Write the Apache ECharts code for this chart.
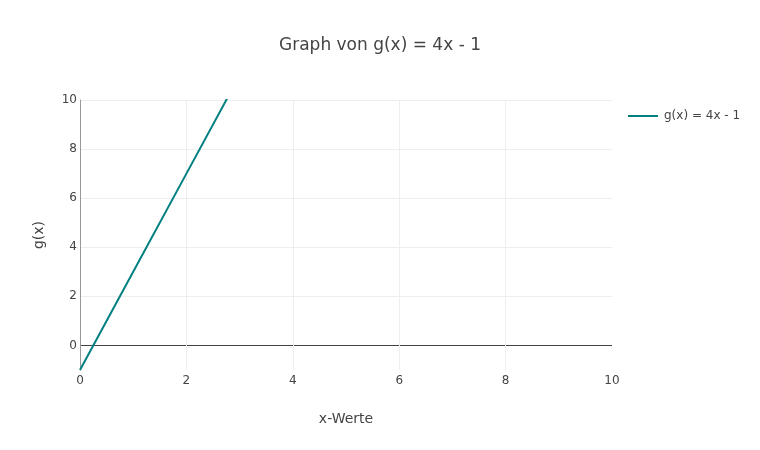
<!DOCTYPE html>
<html>
<head>
<meta charset="utf-8">
<script src="https://cdn.jsdelivr.net/npm/echarts@6/dist/echarts.min.js"></script>
<style>html,body{margin:0;padding:0;background:#fff}#c{width:760px;height:450px}</style>
</head>
<body>
<div id="c"></div>
<script>
var xValues = [0, 1, 2, 3, 4, 5, 6, 7, 8, 9, 10];
var gValues = [-1, 3, 7, 11, 15, 19, 23, 27, 31, 35, 39];
var seriesName = 'g(x) = 4x - 1';
var titleText = 'Graph von g(x) = 4x - 1';
var xTickLabels = [0, 2, 4, 6, 8, 10];
var yTickLabels = [0, 2, 4, 6, 8, 10];

var font = '"DejaVu Sans", Verdana, sans-serif';
var points = xValues.map(function (x, i) { return [x, gValues[i]]; });

// split line colours for ticks -1,0,1,...,10 (interval 1)
var splitColors = [];
for (var v = -1; v <= 10; v++) {
  if (v === 0) splitColors.push('#444');
  else if (yTickLabels.indexOf(v) >= 0) splitColors.push('#eeeeee');
  else splitColors.push('rgba(0,0,0,0)');
}

var chart = echarts.init(document.getElementById('c'));
chart.setOption({
  animation: false,
  backgroundColor: '#fff',
  textStyle: { fontFamily: font },
  title: {
    text: titleText,
    left: 'center',
    top: 37,
    padding: 0,
    textStyle: { fontFamily: font, fontSize: 17, fontWeight: 'normal', color: '#444' }
  },
  legend: {
    left: 628,
    top: 110,
    padding: 0,
    icon: 'rect',
    itemWidth: 30,
    itemHeight: 2,
    itemGap: 6,
    textStyle: { fontFamily: font, fontSize: 12, color: '#444', padding: [0, 0, 0, 1] },
    data: [seriesName]
  },
  grid: { left: 80, right: 148, top: 100, bottom: 80, containLabel: false },
  xAxis: {
    type: 'value',
    min: 0,
    max: 10,
    interval: 2,
    name: 'x-Werte',
    nameLocation: 'middle',
    nameGap: 42,
    nameTextStyle: { fontFamily: font, fontSize: 14, color: '#444' },
    axisLine: { show: false },
    axisTick: { show: false },
    axisLabel: { color: '#444', fontSize: 12, margin: 5, fontFamily: font,
      formatter: function (v) { return xTickLabels.indexOf(v) >= 0 ? String(v) : ''; } },
    splitLine: { show: true, lineStyle: { color: ['rgba(0,0,0,0)', '#eeeeee', '#eeeeee', '#eeeeee', '#eeeeee', 'rgba(0,0,0,0)'], width: 1 } }
  },
  yAxis: {
    type: 'value',
    min: -1,
    max: 10,
    interval: 1,
    name: 'g(x)',
    nameLocation: 'middle',
    nameGap: 34,
    nameRotate: 90,
    nameTextStyle: { fontFamily: font, fontSize: 14, color: '#444' },
    axisLine: { show: true, onZero: false, lineStyle: { color: '#999', width: 1 } },
    axisTick: { show: false },
    axisLabel: { color: '#444', fontSize: 12, margin: 3, fontFamily: font,
      formatter: function (v) { return yTickLabels.indexOf(v) >= 0 ? String(v) : ''; } },
    splitLine: { show: true, lineStyle: { color: splitColors, width: 1 } }
  },
  series: [{
    name: seriesName,
    type: 'line',
    data: points,
    showSymbol: false,
    symbol: 'none',
    clip: true,
    color: '#008080',
    lineStyle: { color: '#008080', width: 2 },
    z: 5
  }]
});
</script>
</body>
</html>
